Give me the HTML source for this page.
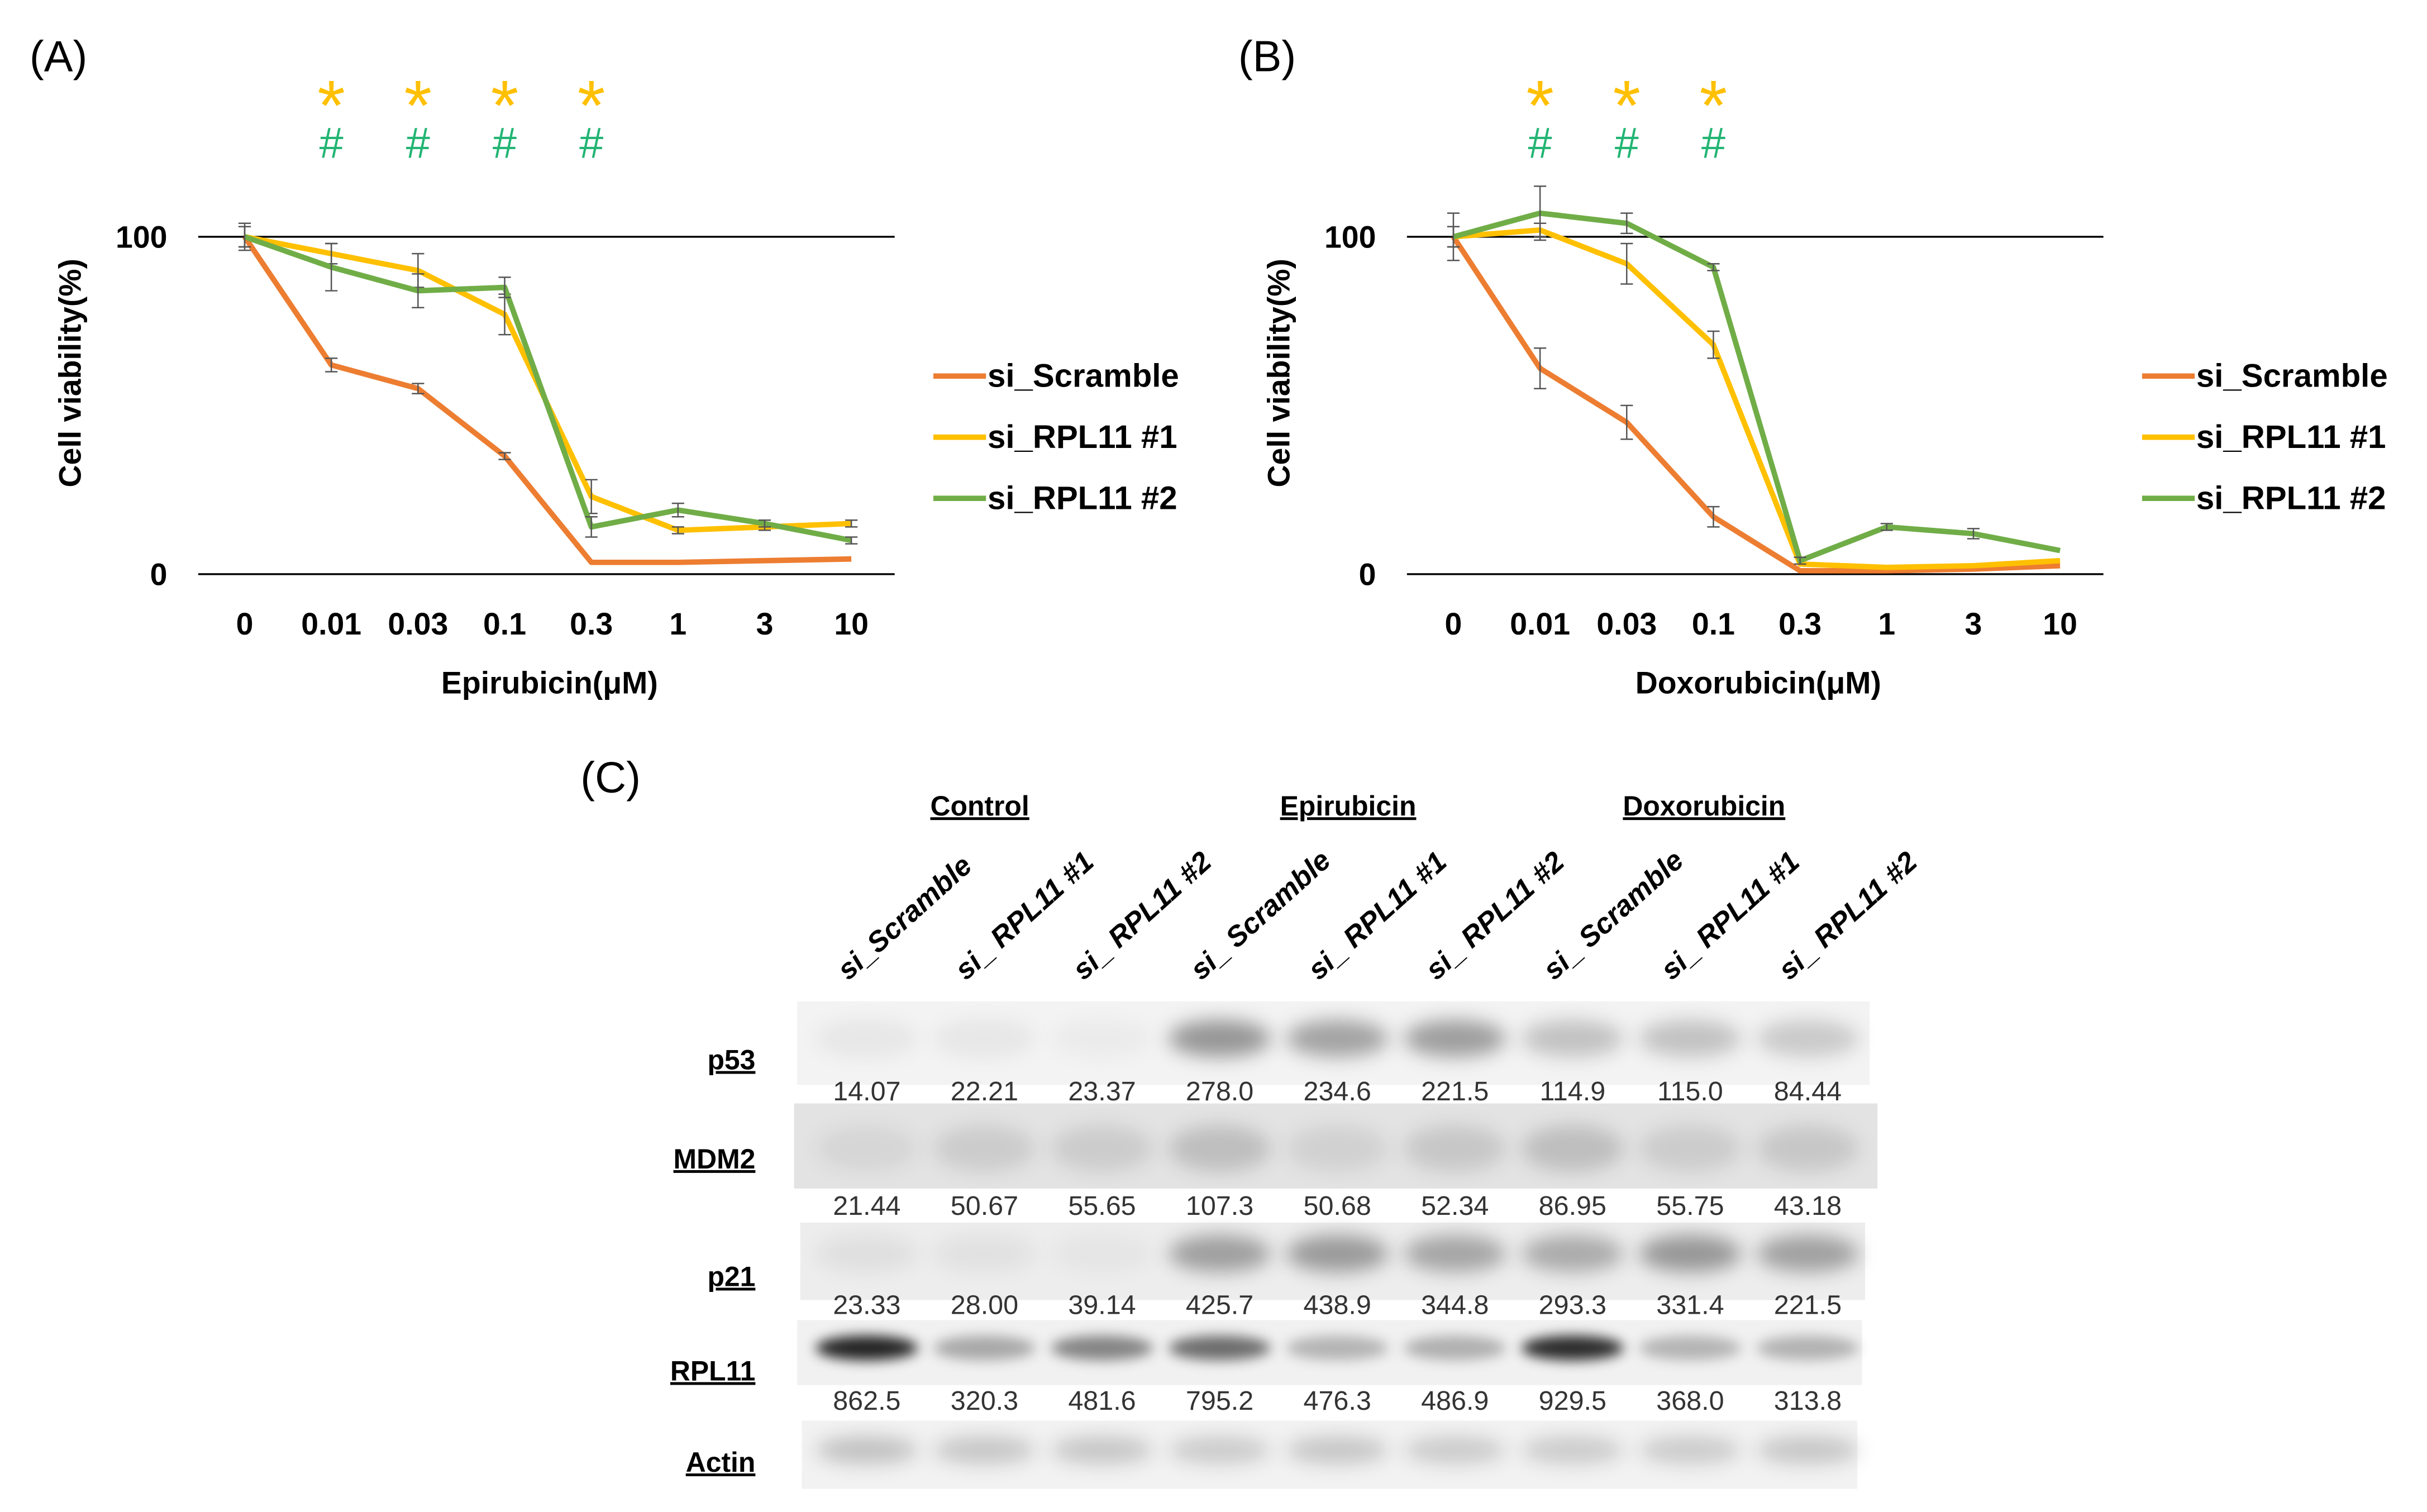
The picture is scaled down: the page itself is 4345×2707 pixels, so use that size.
<!DOCTYPE html>
<html><head><meta charset="utf-8"><style>
html,body{margin:0;padding:0;background:#fff;}
svg{display:block;}
text{font-family:"Liberation Sans","Noto Sans CJK JP",sans-serif;}
</style></head><body>
<svg id="fig" width="4345" height="2707" viewBox="0 0 1568 977" xmlns="http://www.w3.org/2000/svg">
<defs>
<filter id="blur" x="-50%" y="-100%" width="200%" height="300%"><feGaussianBlur stdDeviation="6"/></filter>
<filter id="blur2" x="-50%" y="-100%" width="200%" height="300%"><feGaussianBlur stdDeviation="4"/></filter>
</defs>
<g id="chartA"></g>
<g id="chartB"></g>
<g id="blot"></g>
</svg>
<script>
const categories = ["0","0.01","0.03","0.1","0.3","1","3","10"];
const seriesNames = ["si_Scramble","si_RPL11 #1","si_RPL11 #2"];
const seriesColors = ["#ED7D31","#FFC000","#70AD47"];
const yTicks = [0,100];
const aScramble = [100,62,55,35,3.5,3.5,4,4.5];
const aRpl1 = [100,95,90,77,23,13,14,15];
const aRpl2 = [100,91,84,85,14,19,15,10];
const aErrScramble = [3,2,1.5,1,0.5,0.5,0.5,0.5];
const aErrRpl1 = [3,3,5,6,5,1,1,1];
const aErrRpl2 = [4,7,5,3,3,2,1,1];
const bScramble = [100,61,45,17,1,1,1.5,2.5];
const bRpl1 = [100,102,92,68,3,2,2.5,4];
const bRpl2 = [100,107,104,91,4,14,12,7];
const bErrScramble = [7,6,5,3,0.5,0.5,0.5,0.5];
const bErrRpl1 = [3,2,6,4,0.5,0.5,0.5,0.5];
const bErrRpl2 = [3,8,3,1,1,1,1.5,0.5];
const aStars = ["0.01","0.03","0.1","0.3"];
const bStars = ["0.01","0.03","0.1"];

const lanes = ["si_Scramble","si_ RPL11 #1","si_ RPL11 #2","si_ Scramble","si_ RPL11 #1","si_ RPL11 #2","si_ Scramble","si_ RPL11 #1","si_ RPL11 #2"];
const groups = ["Control","Epirubicin","Doxorubicin"];
const p53Values = ["14.07","22.21","23.37","278.0","234.6","221.5","114.9","115.0","84.44"];
const mdm2Values = ["21.44","50.67","55.65","107.3","50.68","52.34","86.95","55.75","43.18"];
const p21Values = ["23.33","28.00","39.14","425.7","438.9","344.8","293.3","331.4","221.5"];
const rpl11Values = ["862.5","320.3","481.6","795.2","476.3","486.9","929.5","368.0","313.8"];
const p53Band = [0.05,0.05,0.03,0.38,0.33,0.35,0.2,0.2,0.17];
const mdm2Band = [0.06,0.1,0.1,0.16,0.08,0.12,0.16,0.1,0.12];
const p21Band = [0.06,0.05,0.03,0.33,0.35,0.3,0.28,0.36,0.32];
const rpl11Band = [0.85,0.3,0.45,0.55,0.25,0.27,0.82,0.25,0.26];
const actinBand = [0.2,0.18,0.18,0.16,0.18,0.16,0.16,0.16,0.18];

const NS="http://www.w3.org/2000/svg";
function mk(tag,attrs,parent,txt){const e=document.createElementNS(NS,tag);for(const k in attrs)e.setAttribute(k,attrs[k]);if(txt!==undefined)e.textContent=txt;parent.appendChild(e);return e;}

function drawChart(g,ox,data,errs,stars,label,title){
  const x=i=>ox+158+56*i;
  const y=v=>371-(v/100)*218;
  for(const t of yTicks){
    const l=mk('line',{x1:ox+128,x2:ox+578,y1:y(t),y2:y(t),stroke:'#000','stroke-width':1.2},g);
    
    
    const tx=mk('text',{x:ox+108,y:y(t)+7,'text-anchor':'end','font-size':20,'font-weight':'bold'},g,String(t));
    
    
  }
  categories.forEach((c,i)=>{
    const tx=mk('text',{x:x(i),y:410,'text-anchor':'middle','font-size':20,'font-weight':'bold'},g,c);
    
    
  });
  const xt=mk('text',{x:ox+355,y:448,'text-anchor':'middle','font-size':20,'font-weight':'bold'},g,title);
  
  
  const yt=mk('text',{x:0,y:0,'text-anchor':'middle','font-size':20,'font-weight':'bold',transform:`translate(${ox+52},241) rotate(-90)`},g,'Cell viability(%)');
  
  
  const pl=mk('text',{x:ox+19,y:46,'font-size':28},g,label);
  
  
  stars.forEach(s=>{
    const i=categories.indexOf(s);
    const st=mk('text',{x:x(i),y:84,'text-anchor':'middle','font-size':46,fill:'#FFC000'},g,'*');
    
    
    const h=mk('text',{x:x(i),y:102,'text-anchor':'middle','font-size':28,fill:'#22B573'},g,'#');
    
    
  });
  data.forEach((d,s)=>{
    const p=mk('polyline',{points:d.map((v,i)=>x(i)+','+y(v)).join(' '),fill:'none',stroke:seriesColors[s],'stroke-width':3.5,'stroke-linejoin':'round'},g);
    
    
    d.forEach((v,i)=>{
      const e=errs[s][i];
      if(e<0.8)return;
      const eb=mk('path',{d:`M${x(i)},${y(v-e)}V${y(v+e)}M${x(i)-4},${y(v-e)}h8M${x(i)-4},${y(v+e)}h8`,stroke:'#555','stroke-width':0.9,fill:'none'},g);
      
      
    });
  });
  seriesNames.forEach((n,s)=>{
    const ly=243+39.5*s;
    const ll=mk('line',{x1:ox+603,x2:ox+637,y1:ly,y2:ly,stroke:seriesColors[s],'stroke-width':3.5},g);
    
    
    const lt=mk('text',{x:ox+638,y:ly+7,'font-size':21,'font-weight':'bold'},g,n);
    
    
  });
}
drawChart(document.getElementById('chartA'),0,[aScramble,aRpl1,aRpl2],[aErrScramble,aErrRpl1,aErrRpl2],aStars,'(A)','Epirubicin(μM)');
drawChart(document.getElementById('chartB'),781,[bScramble,bRpl1,bRpl2],[bErrScramble,bErrRpl1,bErrRpl2],bStars,'(B)','Doxorubicin(μM)');

(function(){
  const g=document.getElementById('blot');
  const lx=i=>560+76*i;
  const cl=mk('text',{x:375,y:512,'font-size':28},g,'(C)');
  
  
  const gx=[633,871,1101];
  groups.forEach((n,i)=>{
    const t=mk('text',{x:gx[i],y:527,'text-anchor':'middle','font-size':18,'font-weight':'bold','text-decoration':'underline'},g,n);
    
    
  });
  lanes.forEach((n,i)=>{
    const t=mk('text',{x:0,y:0,'font-size':18.5,'font-weight':'bold','font-style':'italic',transform:`translate(${lx(i)-12},634) rotate(-42)`},g,n);
    
    
  });
  const rows=[
    {name:'p53',x1:515,x2:1208,y1:647,y2:701,bg:'#f3f3f3',band:p53Band,by:671,bh:24,ly:691,vals:p53Values,vy:711},
    {name:'MDM2',x1:513,x2:1213,y1:713,y2:768,bg:'#e3e3e3',band:mdm2Band,by:742,bh:30,ly:755,vals:mdm2Values,vy:785},
    {name:'p21',x1:517,x2:1205,y1:790,y2:840,bg:'#ededed',band:p21Band,by:810,bh:24,ly:831,vals:p21Values,vy:849},
    {name:'RPL11',x1:515,x2:1203,y1:853,y2:895,bg:'#f1f1f1',band:rpl11Band,by:871,bh:16,ly:892,vals:rpl11Values,vy:911},
    {name:'Actin',x1:518,x2:1200,y1:918,y2:962,bg:'#f2f2f2',band:actinBand,by:937,bh:18,ly:951,vals:null,vy:0}
  ];
  rows.forEach(r=>{
    const bg=mk('rect',{x:r.x1,y:r.y1,width:r.x2-r.x1,height:r.y2-r.y1,fill:r.bg},g);
    
    
    r.band.forEach((a,i)=>{
      const b=mk('ellipse',{cx:lx(i),cy:r.by,rx:33,ry:r.bh/2,fill:'#000','fill-opacity':a,filter:r.name==='RPL11'?'url(#blur2)':'url(#blur)'},g);
      
      
    });
    const lab=mk('text',{x:488,y:r.ly,'text-anchor':'end','font-size':18,'font-weight':'bold','text-decoration':'underline'},g,r.name);
    
    
    if(r.vals) r.vals.forEach((v,i)=>{
      const t=mk('text',{x:lx(i),y:r.vy,'text-anchor':'middle','font-size':17.5,fill:'#333'},g,v);
      
      
    });
  });
})();
</script>
</body></html>
